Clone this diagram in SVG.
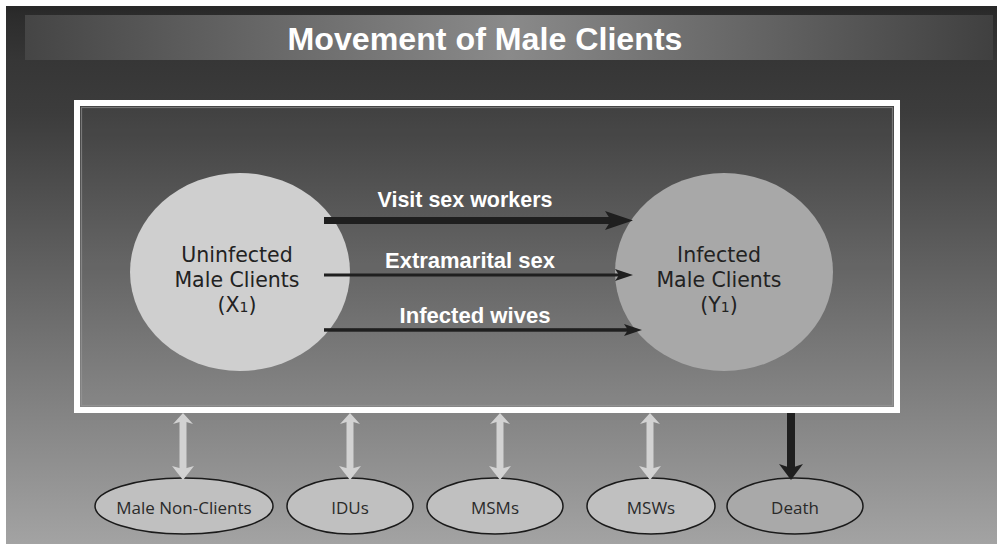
<svg xmlns="http://www.w3.org/2000/svg" width="998" height="544" viewBox="0 0 998 544">
  <defs>
    <linearGradient id="bgGrad" x1="0" y1="6" x2="0" y2="544" gradientUnits="userSpaceOnUse">
      <stop offset="0" stop-color="#282828"/>
      <stop offset="0.02" stop-color="#2c2c2c"/>
      <stop offset="0.1" stop-color="#363636"/>
      <stop offset="0.2" stop-color="#3c3c3c"/>
      <stop offset="1" stop-color="#a3a3a3"/>
    </linearGradient>
    <linearGradient id="bandGrad" x1="25" y1="0" x2="993" y2="0" gradientUnits="userSpaceOnUse">
      <stop offset="0" stop-color="#454545"/>
      <stop offset="0.5" stop-color="#8a8a8a"/>
      <stop offset="1" stop-color="#404040"/>
    </linearGradient>
    <style>
      .title { font-family: "Liberation Sans", Arial, sans-serif; font-weight: bold; font-size: 31px; fill: #ffffff; }
      .flow { font-family: "Liberation Sans", Arial, sans-serif; font-weight: bold; font-size: 22px; fill: #ffffff; }
      .big { font-family: "DejaVu Sans", "Liberation Sans", sans-serif; font-size: 20.5px; fill: #222222; }
      .small { font-family: "Open Sans", "Liberation Sans", sans-serif; font-size: 17px; fill: #2a2a2a; }
      .sub { font-size: 14px; }
      .pool { fill: #c0c0c0; stroke: #1a1a1a; stroke-width: 1.5; }
      .dark { fill: #1f1f1f; }
      .light { fill: #d2d2d2; }
    </style>
  </defs>

  <!-- backdrop -->
  <rect x="6" y="6" width="991" height="538" fill="url(#bgGrad)"/>
  <rect x="25" y="15" width="968" height="45" fill="url(#bandGrad)"/>
  <text class="title" x="485" y="50" text-anchor="middle" textLength="395" lengthAdjust="spacingAndGlyphs">Movement of Male Clients</text>

  <!-- system boundary -->
  <g id="boundary">
    <rect x="77" y="103" width="820" height="307" fill="#ffffff" fill-opacity="0.03" stroke="#ffffff" stroke-width="6"/>
    <rect x="81.5" y="107.5" width="811" height="298" fill="none" stroke="#9a9a9a" stroke-width="1.2" stroke-opacity="0.6"/>
  </g>

  <g id="uninfected">
    <ellipse cx="240" cy="272" rx="110" ry="99" fill="#cfcfcf"/>
    <text class="big" x="237" y="262" text-anchor="middle">Uninfected</text>
    <text class="big" x="237" y="287" text-anchor="middle">Male Clients</text>
    <text class="big" x="237" y="312" text-anchor="middle">(X<tspan class="sub">1</tspan>)</text>
  </g>

  <g id="infected">
    <ellipse cx="724" cy="272" rx="109" ry="99" fill="#a8a8a8"/>
    <text class="big" x="719" y="262" text-anchor="middle">Infected</text>
    <text class="big" x="719" y="287" text-anchor="middle">Male Clients</text>
    <text class="big" x="719" y="312" text-anchor="middle">(Y<tspan class="sub">1</tspan>)</text>
  </g>

  <g id="male-non-clients">
    <ellipse class="pool" cx="184" cy="506" rx="89" ry="28"/>
    <text class="small" x="184" y="514" text-anchor="middle">Male Non-Clients</text>
  </g>
  <g id="idus">
    <ellipse class="pool" cx="350" cy="506" rx="63" ry="28"/>
    <text class="small" x="350" y="514" text-anchor="middle">IDUs</text>
  </g>
  <g id="msms">
    <ellipse class="pool" cx="495" cy="506" rx="68" ry="28"/>
    <text class="small" x="495" y="514" text-anchor="middle">MSMs</text>
  </g>
  <g id="msws">
    <ellipse class="pool" cx="651" cy="506" rx="64" ry="28"/>
    <text class="small" x="651" y="514" text-anchor="middle">MSWs</text>
  </g>
  <g id="death">
    <ellipse class="pool" cx="795" cy="506" rx="68" ry="28" style="fill:#a9a9a9"/>
    <text class="small" x="795" y="514" text-anchor="middle">Death</text>
  </g>

  <!-- connectors -->
  <g id="connectors">
    <!-- infection routes -->
    <rect class="dark" x="324" y="217" width="288" height="7"/>
    <polygon class="dark" points="633,220.5 605,211 611,220.5 605,230"/>
    <text class="flow" x="465" y="207" text-anchor="middle" textLength="175" lengthAdjust="spacingAndGlyphs">Visit sex workers</text>

    <rect class="dark" x="324" y="273.5" width="296" height="3"/>
    <polygon class="dark" points="633,275 615,269 619,275 615,281"/>
    <text class="flow" x="470" y="268" text-anchor="middle" textLength="170" lengthAdjust="spacingAndGlyphs">Extramarital sex</text>

    <rect class="dark" x="324" y="328.2" width="304" height="3.5"/>
    <polygon class="dark" points="642,330 624,324 628,330 624,336"/>
    <text class="flow" x="475" y="323" text-anchor="middle" textLength="151" lengthAdjust="spacingAndGlyphs">Infected wives</text>

    <!-- exchanges with other groups -->
    <g class="light">
      <rect x="179.5" y="420" width="7" height="50"/>
      <polygon points="183,413 173,424 183,421 193,424"/>
      <polygon points="183,480 172,466 183,469 194,466"/>

      <rect x="346.5" y="420" width="7" height="50"/>
      <polygon points="350,413 340,424 350,421 360,424"/>
      <polygon points="350,480 339,466 350,469 361,466"/>

      <rect x="496.5" y="420" width="7" height="50"/>
      <polygon points="500,413 490,424 500,421 510,424"/>
      <polygon points="500,480 489,466 500,469 511,466"/>

      <rect x="646.5" y="420" width="7" height="50"/>
      <polygon points="650,413 640,424 650,421 660,424"/>
      <polygon points="650,480 639,466 650,469 661,466"/>
    </g>

    <!-- mortality -->
    <rect class="dark" x="787" y="413" width="8" height="56"/>
    <polygon class="dark" points="791,480 779,464 791,468 803,464"/>
  </g>
</svg>
